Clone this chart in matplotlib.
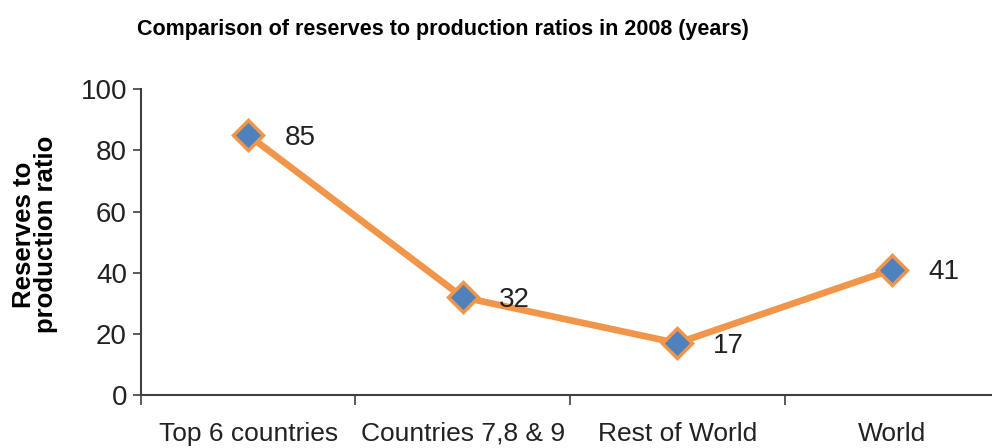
import matplotlib
matplotlib.use("Agg")
import matplotlib.pyplot as plt

# data
categories = ["Top 6 countries", "Countries 7,8 & 9", "Rest of World", "World"]
ratios = [85, 32, 17, 41]
yticks = [0, 20, 40, 60, 80, 100]

FONT = ["Liberation Sans Narrow", "Liberation Sans", "DejaVu Sans"]
plt.rcParams["font.family"] = FONT

orange = "#F0954A"
blue = "#4F81BD"
axcol = "#404040"

fig = plt.figure(figsize=(9.92, 4.48), dpi=100)
ax = fig.add_axes([0.142, 0.118, 0.858, 0.683])

x = range(len(categories))
ax.plot(x, ratios, color=orange, lw=4.8, marker="D", markersize=15,
        markerfacecolor=blue, markeredgecolor=orange, markeredgewidth=2.5,
        solid_joinstyle="round", zorder=3)

for xi, v in zip(x, ratios):
    ax.annotate(str(v), (xi, v), xytext=(26, -2), textcoords="offset points",
                ha="left", va="center", fontsize=20, color="#222222")

ax.set_xlim(-0.5, 3.467)
ax.set_ylim(0, 100)
ax.set_yticks(yticks)
ax.set_xticks(x)
ax.set_xticklabels(categories)
ax.set_xticks([i + 0.5 for i in range(-1, 3)], minor=True)

for s in ["top", "right"]:
    ax.spines[s].set_visible(False)
for s in ["left", "bottom"]:
    ax.spines[s].set_color(axcol)
    ax.spines[s].set_linewidth(1.5)

ax.tick_params(axis="y", length=6, width=1.2, color=axcol, labelsize=20,
               labelcolor="#222222", pad=4)
ax.tick_params(axis="x", which="major", length=0, labelsize=19,
               labelcolor="#222222", pad=19)
ax.tick_params(axis="x", which="minor", length=7, width=1.2, color=axcol,
               direction="out")

ax.set_ylabel("Reserves to\nproduction ratio", fontsize=18.5, fontweight="bold",
              linespacing=0.9)
ax.yaxis.set_label_coords(-0.097, 0.525)

fig.text(0.138, 0.935, "Comparison of reserves to production ratios in 2008 (years)",
         fontsize=15.5, fontweight="bold", ha="left", va="center")

fig.savefig("out.png", dpi=100)
